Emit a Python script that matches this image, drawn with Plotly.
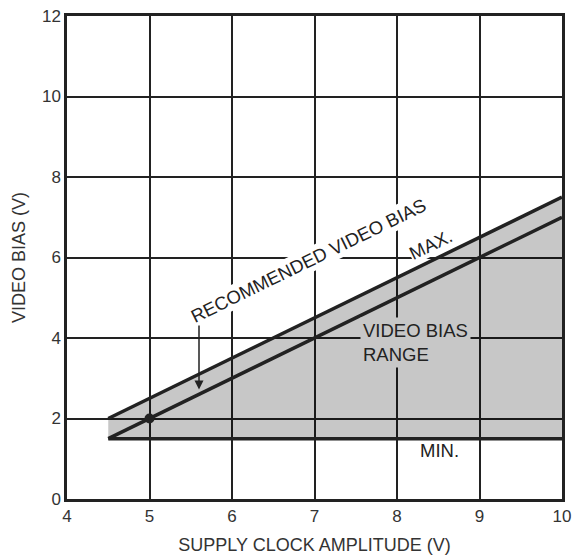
import plotly.graph_objects as go

# ---- data ----
supply_v = [4.5, 10.0]          # supply clock amplitude (V), end points of the lines
max_bias = [2.0, 7.5]           # MAX. video bias (V)
recommended_bias = [1.5, 7.0]   # recommended video bias (V)
min_bias = [1.5, 1.5]           # MIN. video bias (V)
marker_x = [5.0]
marker_y = [2.0]

x_ticks = [4, 5, 6, 7, 8, 9, 10]
y_ticks = [0, 2, 4, 6, 8, 10, 12]

FONT = "Liberation Sans, Arial, Helvetica, sans-serif"
INK = "#222222"
FILL = "rgba(0,0,0,0.22)"
FILL_SOLID = "#c7c7c7"

fig = go.Figure()

# shaded range (between min and max)
poly_x = supply_v + supply_v[::-1]
poly_y = max_bias + min_bias[::-1]
fig.add_trace(go.Scatter(x=poly_x + [poly_x[0]], y=poly_y + [poly_y[0]],
                         mode="lines", fill="toself", fillcolor=FILL,
                         line=dict(width=0), hoverinfo="skip", showlegend=False))

for ys in (max_bias, recommended_bias, min_bias):
    fig.add_trace(go.Scatter(x=supply_v, y=ys, mode="lines",
                             line=dict(color=INK, width=3.5), showlegend=False))

fig.add_trace(go.Scatter(x=marker_x, y=marker_y, mode="markers",
                         marker=dict(color=INK, size=10), showlegend=False))

ann_font = dict(family=FONT, size=18.5, color=INK)
fig.add_annotation(x=6.93, y=5.92, text="RECOMMENDED VIDEO BIAS", showarrow=False,
                   textangle=-26, bgcolor="white", font=ann_font, borderpad=1)
fig.add_annotation(x=8.41, y=6.33, text="MAX.", showarrow=False,
                   textangle=-26, bgcolor="white", font=ann_font, borderpad=0)
fig.add_annotation(x=7.55, y=3.88, text="VIDEO BIAS<br>RANGE", showarrow=False,
                   xanchor="left", align="left", bgcolor=FILL_SOLID, font=ann_font,
                   borderpad=2)
fig.add_annotation(x=8.51, y=1.2, text="MIN.", showarrow=False, font=ann_font)
# arrow pointing at recommended line
fig.add_annotation(x=5.6, y=2.72, ax=5.6, ay=4.35, axref="x", ayref="y",
                   xref="x", yref="y", text="", showarrow=True,
                   arrowhead=2, arrowsize=1.2, arrowwidth=1.5, arrowcolor=INK)

axis_common = dict(showgrid=True, gridcolor=INK, gridwidth=1.6,
                   showline=True, linecolor=INK, linewidth=2.5, mirror=True,
                   zeroline=False, ticks="", automargin=False,
                   tickfont=dict(family=FONT, size=17, color="#333333"),
                   title_font=dict(family=FONT, size=18, color="#333333"))

fig.update_xaxes(range=[4, 10], tickvals=x_ticks, ticktext=[str(v) for v in x_ticks],
                 title_text="SUPPLY CLOCK AMPLITUDE (V)", title_standoff=20,
                 **axis_common)
fig.update_yaxes(range=[0, 12], tickvals=y_ticks, ticktext=[str(v) for v in y_ticks],
                 title_text="VIDEO BIAS (V)", title_standoff=12,
                 **axis_common)

fig.update_layout(width=572, height=555,
                  margin=dict(l=67, r=10, t=16, b=56),
                  paper_bgcolor="white", plot_bgcolor="white",
                  font=dict(family=FONT))

fig.write_html("out.html")
